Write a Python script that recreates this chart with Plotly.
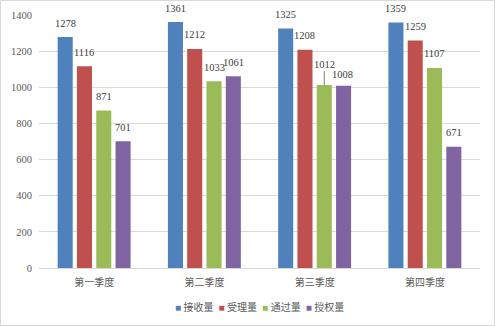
import plotly.graph_objects as go

categories = ["第一季度", "第二季度", "第三季度", "第四季度"]
series_names = ["接收量", "受理量", "通过量", "授权量"]
received = [1278, 1361, 1325, 1359]
accepted = [1116, 1212, 1208, 1259]
passed = [871, 1033, 1012, 1107]
granted = [701, 1061, 1008, 671]
y_ticks = [0, 200, 400, 600, 800, 1000, 1200, 1400]

colors = ["#4F81BD", "#C0504D", "#9BBB59", "#8064A2"]
series = [received, accepted, passed, granted]

W, H = 495, 326
ML, MR, MT, MB = 39, 15, 15, 58
BARGAP = 0.30
FONT = "Liberation Serif, Noto Sans CJK SC, serif"

fig = go.Figure()
for name, vals, c in zip(series_names, series, colors):
    fig.add_trace(go.Bar(x=categories, y=vals, name=name, marker_color=c,
                         marker_line_width=0, showlegend=False))

plot_w = W - ML - MR
plot_h = H - MT - MB
cat_w = plot_w / len(categories)
slot = (1 - BARGAP) * cat_w / len(series)

annotations = []
for si, vals in enumerate(series):
    xs = (si - (len(series) - 1) / 2) * slot
    for ci, v in enumerate(vals):
        a = dict(x=categories[ci], y=v, xref="x", yref="y", text=str(v),
                 showarrow=False, xshift=xs, yshift=14,
                 font=dict(family=FONT, size=10.5, color="#404040"))
        if v == 1012 and ci == 2:
            a.update(showarrow=True, ax=0, ay=-21, arrowhead=0, arrowwidth=1,
                     arrowcolor="#7f7f7f", standoff=0, yshift=0)
        if v == 1008 and ci == 2:
            a.update(yshift=11, xshift=xs - 1.5)
        annotations.append(a)

# legend drawn as a single centred line of text with coloured squares
legend_parts = []
for name, c in zip(series_names, colors):
    legend_parts.append(
        f"<span style='font-size:10px;color:{c}'>■</span> {name}")
annotations.append(dict(
    x=0.5, y=-(306.5 - (H - MB)) / plot_h, xref="paper", yref="paper",
    xanchor="center", yanchor="middle", showarrow=False,
    text="&nbsp;&nbsp;".join(legend_parts),
    font=dict(family=FONT, size=10, color="#595959")))

fig.update_layout(
    width=W, height=H,
    margin=dict(l=ML, r=MR, t=MT, b=MB, autoexpand=False),
    paper_bgcolor="white", plot_bgcolor="white",
    barmode="group", bargap=BARGAP, bargroupgap=0.22,
    font=dict(family=FONT, size=10, color="#595959"),
    showlegend=False,
    annotations=annotations,
    shapes=[dict(type="rect", xref="paper", yref="paper",
                 x0=-(ML - 0.5) / plot_w, x1=1 + (MR - 0.5) / plot_w,
                 y0=-(MB - 0.5) / plot_h, y1=1 + (MT - 0.5) / plot_h,
                 line=dict(color="#D9D9D9", width=1), layer="below")],
)
fig.update_yaxes(range=[0, 1400], tickvals=y_ticks, showgrid=True,
                 gridcolor="#D9D9D9", gridwidth=1, zeroline=False,
                 showline=False, ticks="", ticklabelstandoff=6, automargin=False,
                 tickfont=dict(size=10.5, color="#595959"))
fig.update_xaxes(showline=True, linecolor="#D9D9D9", linewidth=1, ticks="",
                 ticklabelstandoff=5, automargin=False,
                 tickfont=dict(size=10, color="#595959"))

fig.write_html("out.html")
